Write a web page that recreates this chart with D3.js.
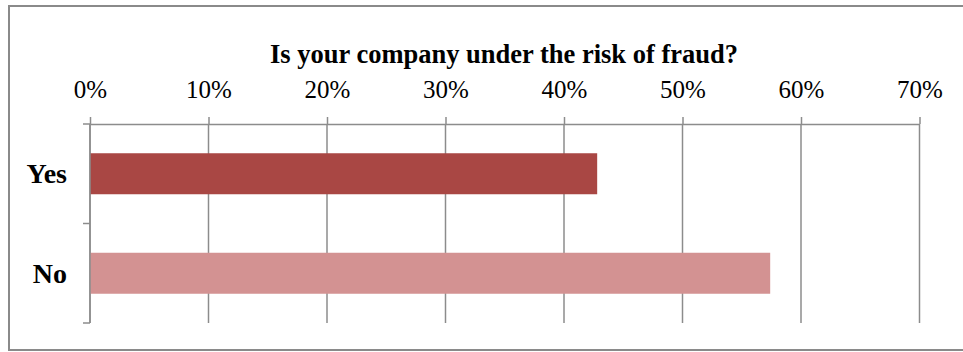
<!DOCTYPE html>
<html>
<head>
<meta charset="utf-8">
<script src="https://cdn.jsdelivr.net/npm/d3@7"></script>
<style>
  html, body { margin: 0; padding: 0; background: #fff; }
  svg { display: block; }
</style>
</head>
<body>
<svg id="chart" width="963" height="352"></svg>
<script>
// Survey answers and their share of respondents (%)
const categories = ["Yes", "No"];
const shares = [42.8, 57.4];
const barColors = ["#A94744", "#D39292"];
const tickValues = [0, 10, 20, 30, 40, 50, 60, 70];
const titleText = "Is your company under the risk of fraud?";

const svg = d3.select("#chart");
const W = 963, H = 352;
const margin = { top: 124, left: 90, right: 44, bottom: 29 };
const plotH = H - margin.top - margin.bottom;
const serif = "'Liberation Serif', 'Times New Roman', serif";
const gridColor = "#8c8c8c";

// outer frame
svg.append("rect")
  .attr("x", 9).attr("y", 6)
  .attr("width", W).attr("height", H - 8)
  .attr("fill", "#fff")
  .attr("stroke", "#8a8a8a").attr("stroke-width", 2);

const x = d3.scaleLinear().domain([0, 70]).range([0, 829.5]);
const y = d3.scaleBand().domain(categories).range([0, plotH]).padding(0);

const g = svg.append("g").attr("transform", `translate(${margin.left},${margin.top})`);

// vertical gridlines
g.selectAll("line.grid")
  .data(tickValues)
  .join("line")
  .attr("class", "grid")
  .attr("x1", d => x(d)).attr("x2", d => x(d))
  .attr("y1", 0).attr("y2", plotH)
  .attr("stroke", gridColor).attr("stroke-width", 1.5);

// bars
const barH = 41;
g.selectAll("rect.bar")
  .data(categories)
  .join("rect")
  .attr("class", "bar")
  .attr("x", x(0))
  .attr("y", d => y(d) + y.bandwidth() / 2 - barH / 2)
  .attr("width", (d, i) => x(shares[i]) - x(0))
  .attr("height", barH)
  .attr("fill", (d, i) => barColors[i]);

// top percentage axis
const xAxis = d3.axisTop(x)
  .tickValues(tickValues)
  .tickFormat(d => d + "%")
  .tickSize(7)
  .tickSizeOuter(0)
  .tickPadding(19);
const xa = g.append("g").call(xAxis);
xa.attr("font-family", null).attr("font-size", null);
xa.select(".domain").attr("stroke", gridColor).attr("stroke-width", 1.5);
xa.selectAll(".tick line").attr("stroke", gridColor).attr("stroke-width", 1.5);
xa.selectAll(".tick text")
  .attr("fill", "#000")
  .style("font-family", serif)
  .style("font-size", "25px");

// left category axis
const yAxis = d3.axisLeft(y).tickSize(0).tickPadding(23);
const ya = g.append("g").call(yAxis);
ya.attr("font-family", null).attr("font-size", null);
ya.select(".domain").remove();
ya.selectAll(".tick text")
  .attr("fill", "#000")
  .attr("dy", "0.33em")
  .style("font-family", serif)
  .style("font-size", "28px")
  .style("font-weight", "bold");

// left spine with boundary ticks between categories
g.append("line")
  .attr("x1", 0).attr("x2", 0).attr("y1", 0).attr("y2", plotH)
  .attr("stroke", gridColor).attr("stroke-width", 1.5);
const bounds = [0, ...categories.map(c => y(c) + y.bandwidth())];
g.selectAll("line.ytick")
  .data(bounds)
  .join("line")
  .attr("class", "ytick")
  .attr("x1", -7).attr("x2", 0)
  .attr("y1", d => d).attr("y2", d => d)
  .attr("stroke", gridColor).attr("stroke-width", 1.5);

// title
svg.append("text")
  .attr("x", 504).attr("y", 63)
  .attr("text-anchor", "middle")
  .style("font-family", serif)
  .style("font-size", "26.5px")
  .style("font-weight", "bold")
  .text(titleText);
</script>
</body>
</html>
